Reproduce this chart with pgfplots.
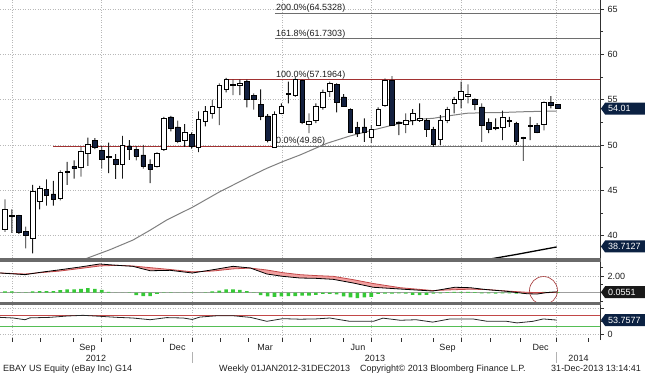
\documentclass[border=0pt]{standalone}
\usepackage{fontspec}
\setmainfont{Liberation Sans}
\usepackage{pgfplots}
\usepackage{pgfplotstable}
\pgfplotsset{compat=1.18}
\usetikzlibrary{shapes.symbols}

\definecolor{navyc}{HTML}{13203F}
\definecolor{boxnavy}{HTML}{0B2142}
\definecolor{gridc}{HTML}{B8B8B8}
\definecolor{axisc}{HTML}{303030}
\definecolor{redline}{HTML}{A23232}
\definecolor{fibgray}{HTML}{6E6E6E}
\definecolor{magray}{HTML}{7F7F7F}
\definecolor{sepgray}{HTML}{6A6A6A}
\definecolor{macdpink}{HTML}{F2A0A0}
\definecolor{histgreen}{HTML}{35C935}
\definecolor{rsired}{HTML}{C24848}
\definecolor{rsigreen}{HTML}{55BE55}
\definecolor{textc}{HTML}{1E1E1E}

\newcommand\fs{\fontsize{9}{10.8}\selectfont}

\pgfplotstableread{
i o h l c
0 40.7 44.0 40.4 42.9
1 42.2 42.9 40.3 42.1
2 42.2 42.3 40.2 40.4
3 40.5 41.0 38.6 40.0
4 39.7 45.6 38.05 44.9
5 43.75 45.5 42.9 45.2
6 45.1 46.2 43.3 44.5
7 44.6 46.05 43.3 44.0
8 44.1 47.2 43.9 46.95
9 47.0 48.15 45.6 47.1
10 47.6 48.3 46.3 47.45
11 47.5 49.8 46.5 49.3
12 49.1 50.8 47.7 50.1
13 50.55 50.75 49.55 49.75
14 49.4 49.9 47.4 48.4
15 48.6 50.25 46.9 48.75
16 48.4 49.0 46.25 47.9
17 47.9 51.0 46.3 50.0
18 49.9 50.55 48.35 49.5
19 49.5 49.9 48.3 48.8
20 48.9 50.0 47.4 47.7
21 47.9 48.4 45.8 47.3
22 47.7 49.2 47.5 49.1
23 49.5 53.1 49.35 52.9
24 53.1 53.2 51.5 51.8
25 52.0 52.7 50.2 50.4
26 50.55 52.3 49.8 51.45
27 51.15 51.4 49.6 49.9
28 49.8 53.7 49.2 52.85
29 52.6 54.3 52.05 53.7
30 53.55 55.0 52.9 54.3
31 54.2 56.8 52.2 56.6
32 56.2 57.4 55.8 57.2
33 56.6 57.2 55.5 56.7
34 56.6 57.2 55.5 56.8
35 57.0 57.2 54.15 55.05
36 55.5 55.7 53.9 55.05
37 54.5 56.15 52.75 53.2
38 53.2 53.4 50.3 50.5
39 49.8 53.7 49.7 53.4
40 53.5 54.6 53.4 54.3
41 55.6 57.0 54.6 55.75
42 55.45 57.5 55.3 57.2
43 57.1 57.2 52.3 52.45
44 52.3 53.5 51.3 52.65
45 52.75 54.6 52.4 54.3
46 54.2 56.1 53.9 55.8
47 55.9 57.0 55.3 56.8
48 56.7 56.8 53.6 54.7
49 55.3 55.6 54.2 54.3
50 53.95 54.05 51.3 51.45
51 51.9 52.55 50.9 51.3
52 52.0 52.95 50.35 51.4
53 50.9 52.2 50.2 51.75
54 52.2 54.15 52.1 53.95
55 54.35 57.35 54.2 57.15
56 57.15 57.6 52.1 52.2
57 52.55 52.6 51.1 52.4
58 52.3 53.5 51.3 52.7
59 52.75 53.95 52.2 53.5
60 52.75 54.6 52.55 53.0
61 52.75 52.95 50.9 51.7
62 51.7 52.0 49.8 50.1
63 50.6 53.3 50.0 52.75
64 52.75 54.2 52.4 53.95
65 54.6 55.3 53.5 55.05
66 55.05 57.0 54.05 55.9
67 55.35 56.7 54.6 55.6
68 55.05 55.15 53.85 54.5
69 54.2 54.6 50.35 52.2
70 52.45 52.95 51.3 51.7
71 51.85 52.95 51.65 52.0
72 52.0 53.8 50.55 53.1
73 52.75 53.1 52.0 52.65
74 52.4 52.55 50.0 50.45
75 50.8 50.9 48.25 50.7
76 52.1 53.1 50.55 52.2
77 52.2 52.4 51.3 51.45
78 52.3 54.8 51.6 54.7
79 54.7 55.4 54.05 54.35
80 54.5 54.5 54.0 54.01
}\candles

\pgfplotstableread{
i v
7.96 36.27
11.82 37.49
15.2 38.45
18.52 39.51
21.0 40.6
23.4 41.72
27.2 43.16
31.1 44.85
33.0 45.58
35.5 46.55
37.9 47.43
40.3 48.2
42.7 48.9
46.6 50.19
49.9 50.99
53.3 51.66
57.2 52.4
60.1 52.84
62.0 52.95
64.5 53.25
66.8 53.5
69.2 53.56
71.6 53.58
75.5 53.68
79.84 53.75
}\matab

\pgfplotstableread{
i m s
-0.72 2.36 2.36
2.9 2.16 2.24
5.1 2.44 2.40
8.0 2.75 2.60
10.9 3.08 2.90
13.7 3.44 3.20
16.2 3.28 3.28
18.5 3.16 3.20
21.0 2.63 3.00
23.9 2.68 2.78
27.1 2.36 2.50
30.1 2.75 2.60
33.0 3.16 2.85
35.5 2.96 2.95
37.9 2.24 2.72
40.2 1.96 2.40
42.7 1.76 2.16
45.0 1.72 2.05
47.5 1.60 1.96
50.4 1.16 1.56
53.3 0.65 1.10
57.2 0.44 0.60
61.9 0.20 0.26
65.1 0.65 0.36
67.3 0.60 0.42
69.8 0.36 0.38
72.6 0.17 0.20
75.5 -0.12 0.05
77.0 -0.16 0.02
78.4 0.02 0.00
79.84 0.10 0.05
}\macdtab

% band between MACD (forward) and signal (backward)
\pgfplotstableread{
i y
-0.72 2.36
2.9 2.16
5.1 2.44
8.0 2.75
10.9 3.08
13.7 3.44
16.2 3.28
18.5 3.16
21.0 2.63
23.9 2.68
27.1 2.36
30.1 2.75
33.0 3.16
35.5 2.96
37.9 2.24
40.2 1.96
42.7 1.76
45.0 1.72
47.5 1.60
50.4 1.16
53.3 0.65
57.2 0.44
61.9 0.20
65.1 0.65
67.3 0.60
69.8 0.36
72.6 0.17
75.5 -0.12
77.0 -0.16
78.4 0.02
79.84 0.10
79.84 0.05
78.4 0.00
77.0 0.02
75.5 0.05
72.6 0.20
69.8 0.38
67.3 0.42
65.1 0.36
61.9 0.26
57.2 0.60
53.3 1.10
50.4 1.56
47.5 1.96
45.0 2.05
42.7 2.16
40.2 2.40
37.9 2.72
35.5 2.95
33.0 2.85
30.1 2.60
27.1 2.50
23.9 2.78
21.0 3.00
18.5 3.20
16.2 3.28
13.7 3.20
10.9 2.90
8.0 2.60
5.1 2.40
2.9 2.24
-0.72 2.36
}\bandtab

\pgfplotstableread{
i h
0 0.15
1 0.15
2 0.05
3 0.05
4 0.15
5 0.2
6 0.2
7 0.2
8 0.3
9 0.4
10 0.4
11 0.45
12 0.55
13 0.45
14 0.35
15 0.1
16 0.02
17 0.02
18 -0.02
19 -0.3
20 -0.4
21 -0.4
22 -0.15
23 0.05
24 0.05
25 0.02
26 0.0
27 0.05
28 0.02
29 0.05
30 0.15
31 0.25
32 0.4
33 0.4
34 0.35
35 0.2
36 0.05
37 -0.3
38 -0.45
39 -0.5
40 -0.45
41 -0.4
42 -0.4
43 -0.35
44 -0.35
45 -0.25
46 -0.15
47 -0.15
48 -0.2
49 -0.45
50 -0.55
51 -0.65
52 -0.55
53 -0.5
54 -0.15
55 -0.1
56 -0.1
57 -0.08
58 -0.1
59 -0.25
60 -0.3
61 -0.25
62 -0.1
63 -0.08
64 0.08
65 0.1
66 0.1
67 0.1
68 0.08
69 -0.08
70 -0.08
71 -0.1
72 -0.08
73 -0.08
74 -0.1
75 -0.1
76 -0.1
77 0.08
78 0.1
79 0.1
80 0.08
}\histtab

\pgfplotstableread{
i r
-0.72 64
1.2 61.5
2.9 55
3.6 62
6.5 64
9.0 69
11.3 71.6
13.7 68
16.2 64
18.5 61.5
21.0 55
23.4 63
25.8 61.5
27.1 56
28.2 65
30.7 70
33.0 70
35.5 64
37.9 49
40.2 59
42.7 57
45.0 58
47.0 61.5
49.9 49
53.3 49
54.7 61
57.2 53
59.5 55
61.9 46
64.4 58
67.7 58
69.8 49
72.6 49
74.1 43
76.4 49
77.9 58
79.84 53.76
}\rsitab

\pgfplotsset{
 panel/.style={scale only axis, width=600.7pt, xmin=-0.724, xmax=86.21, anchor=south west,
   axis line style={draw=none},
   /pgf/number format/assume math mode=true,
   ticklabel style={font=\fs, text=textc},
   tick align=outside, ytick pos=right, yticklabel pos=right,
   grid style={gridc, dash pattern=on 0.9pt off 1.6pt, line width=0.6pt},
   major tick style={axisc, line width=0.6pt}, minor tick style={axisc, line width=0.5pt},
   major tick length=3.5pt, minor tick length=2.5pt},
 over/.style={scale only axis, width=600.7pt, height=258pt, at={(0pt,118pt)}, anchor=south west,
   xmin=-0.724, xmax=86.21, ymin=37.53, ymax=66.0, hide axis, ybar stacked}
}
\tikzset{
 valbox/.style={signal, signal to=west, signal pointer angle=110, fill=boxnavy, text=white,
   font=\fs, inner xsep=1.5pt, inner ysep=1pt, minimum height=12pt, minimum width=44pt,
   text width=34pt, align=left, anchor=west}
}

\begin{document}
\begin{tikzpicture}
\useasboundingbox (0pt,0pt) rectangle (645pt,376pt);

% ---------- main price panel ----------
\begin{axis}[panel, at={(0pt,118pt)}, height=258pt, ymin=37.53, ymax=66.0,
  xtick={1.06,13.99,27.1,40.09,53.07,66.09,79.84}, xticklabels={}, xtick pos=top, xmajorgrids,
  ytick={40,45,50,55,60,65}, yticklabels={40,45,50,55,60,65},
  minor ytick={42.5,47.5,52.5,57.5,62.5}, ymajorgrids]
\addplot[magray, line width=1pt] table[x=i,y=v] {\matab};
\addplot[black, line width=1.3pt] coordinates {(68,37.13) (74,37.92) (79.84,38.75)};
\addplot[fibgray, line width=0.7pt] coordinates {(39.07,64.5328) (86.21,64.5328)};
\addplot[fibgray, line width=0.7pt] coordinates {(39.07,61.7303) (86.21,61.7303)};
\addplot[fibgray, line width=0.7pt] coordinates {(39.07,57.1964) (86.21,57.1964)};
\addplot[fibgray, line width=0.7pt] coordinates {(39.07,49.86) (86.21,49.86)};
\addplot[redline, line width=0.7pt] coordinates {(7.0,49.86) (39.07,49.86)};
\addplot[redline, line width=0.7pt] coordinates {(32.1,57.1964) (86.21,57.1964)};
\end{axis}

% wicks
\begin{axis}[over, bar width=0.9pt]
\addplot[draw=none, fill=none] table[x=i, y=l] {\candles};
\addplot[fill=black!90, draw=none] table[x=i, y expr=\thisrow{h}-\thisrow{l}] {\candles};
\end{axis}

% bodies
\begin{axis}[over, bar width=4.6pt]
\addplot[draw=none, fill=none] table[x=i, y expr={min(\thisrow{o},\thisrow{c})}] {\candles};
\addplot[fill=white, draw=black, line width=0.6pt] table[x=i, y expr={max(\thisrow{c}-\thisrow{o},0)}] {\candles};
\addplot[fill=navyc, draw=black, line width=0.6pt] table[x=i, y expr={max(\thisrow{o}-\thisrow{c},0)}] {\candles};
\end{axis}

% labels / boxes for main panel (unclipped overlay)
\begin{axis}[scale only axis, width=600.7pt, height=258pt, at={(0pt,118pt)}, anchor=south west,
   xmin=-0.724, xmax=86.21, ymin=37.53, ymax=66.0, hide axis, clip=false]
\node[anchor=base west, inner sep=0pt, font=\fs, text=textc, yshift=2.5pt] at (axis cs:39.22,64.5328) {200.0\%(64.5328)};
\node[anchor=base west, inner sep=0pt, font=\fs, text=textc, yshift=2.5pt] at (axis cs:39.22,61.7303) {161.8\%(61.7303)};
\node[anchor=base west, inner sep=0pt, font=\fs, text=textc, yshift=2.5pt] at (axis cs:39.22,57.1964) {100.0\%(57.1964)};
\node[anchor=base west, inner sep=0pt, font=\fs, text=textc, yshift=2.5pt] at (axis cs:39.22,49.86) {0.0\%(49.86)};
\draw[axisc, line width=0.8pt] (axis cs:86.21,37.53) -- (axis cs:86.21,66.0);
\node[valbox] at (axis cs:86.21,54.01) {54.01};
\node[valbox] at (axis cs:86.21,38.8) {38.7127};
\end{axis}

% ---------- MACD panel ----------
\begin{axis}[panel, at={(0pt,74.3pt)}, height=40pt, ymin=-1.078, ymax=3.713,
  xtick={1.06,13.99,27.1,40.09,53.07,66.09,79.84}, xticklabels={}, xtick pos=top, xmajorgrids,
  ytick={2}, yticklabels={2.00}, minor ytick={-1,0,1,3}, ymajorgrids]
\addplot[gray!75, line width=0.6pt] coordinates {(-0.724,0) (86.21,0)};
\addplot[ybar, bar width=3.6pt, fill=histgreen, draw=none] table[x=i,y=h] {\histtab};
\addplot[fill=macdpink, draw=none] table[x=i,y=y] {\bandtab} -- cycle;
\addplot[rsired, line width=0.8pt] table[x=i,y=s] {\macdtab};
\addplot[black, line width=0.8pt] table[x=i,y=m] {\macdtab};
\end{axis}
\begin{axis}[scale only axis, width=600.7pt, height=40pt, at={(0pt,74.3pt)}, anchor=south west,
   xmin=-0.724, xmax=86.21, ymin=-1.078, ymax=3.713, hide axis, clip=false]
\draw[axisc, line width=0.8pt] (axis cs:86.21,-1.078) -- (axis cs:86.21,3.713);
\draw[redline, line width=0.6pt] (axis cs:77.93,0.26) circle[radius=14pt];
\node[valbox, fill=black!90] at (axis cs:86.21,0.0551) {0.0551};
\end{axis}

% ---------- RSI panel ----------
\begin{axis}[panel, at={(0pt,38pt)}, height=33pt, ymin=-13.96, ymax=110.57,
  xtick={1.06,13.99,27.1,40.09,53.07,66.09,79.84},
  minor xtick={5.07,9.88,18.09,22.91,31.11,35.21,44.14,48.96,57.41,61.98,70.19,74.53,84.41},
  xticklabels={}, xtick pos=bottom, xmajorgrids,
  ytick={0,100}, yticklabels={0,}, minor ytick={50}, ymajorgrids, minor tick length=3.5pt]
\addplot[rsired, line width=0.7pt] coordinates {(-0.724,70) (86.21,70)};
\addplot[rsigreen, line width=0.7pt] coordinates {(-0.724,30) (86.21,30)};
\addplot[black!85, line width=0.8pt] table[x=i,y=r] {\rsitab};
\end{axis}
\begin{axis}[scale only axis, width=600.7pt, height=33pt, at={(0pt,38pt)}, anchor=south west,
   xmin=-0.724, xmax=86.21, ymin=-13.96, ymax=110.57, hide axis, clip=false]
\draw[axisc, line width=0.8pt] (axis cs:86.21,-22) -- (axis cs:86.21,110.57);
\node[valbox] at (axis cs:86.21,53.76) {53.7577};
\end{axis}

% panel separators
\fill[sepgray] (0pt,114.3pt) rectangle (601pt,117.7pt);
\fill[sepgray] (0pt,71pt) rectangle (601pt,74.3pt);

% date labels
\foreach \x/\t in {87.5/Sep,177.5/Dec,265/Mar,358/Jun,447.5/Sep,540.5/Dec}
  \node[anchor=base, font=\fs, text=textc, inner sep=0pt] at (\x pt,26pt) {\t};
\foreach \x/\t in {96/2012,375/2013,578.5/2014}
  \node[anchor=base, font=\fs, text=textc, inner sep=0pt] at (\x pt,14.5pt) {\t};
\draw[gray!60, line width=1.2pt] (192.3pt,13.5pt) -- (192.3pt,24pt);
\draw[gray!60, line width=1.2pt] (556.7pt,13.5pt) -- (556.7pt,24pt);

% footer
\node[anchor=base west, font=\fs, text=textc, inner sep=0pt] at (3pt,4.5pt) {EBAY US Equity (eBay Inc) G14};
\node[anchor=base west, font=\fs, text=textc, inner sep=0pt] at (219pt,4.5pt) {Weekly 01JAN2012-31DEC2013};
\node[anchor=base west, font=\fs, text=textc, inner sep=0pt] at (360pt,4.5pt) {Copyright\textcopyright{} 2013 Bloomberg Finance L.P.};
\node[anchor=base east, font=\fs, text=textc, inner sep=0pt] at (641pt,4.5pt) {31-Dec-2013 13:14:41};
\end{tikzpicture}
\end{document}
